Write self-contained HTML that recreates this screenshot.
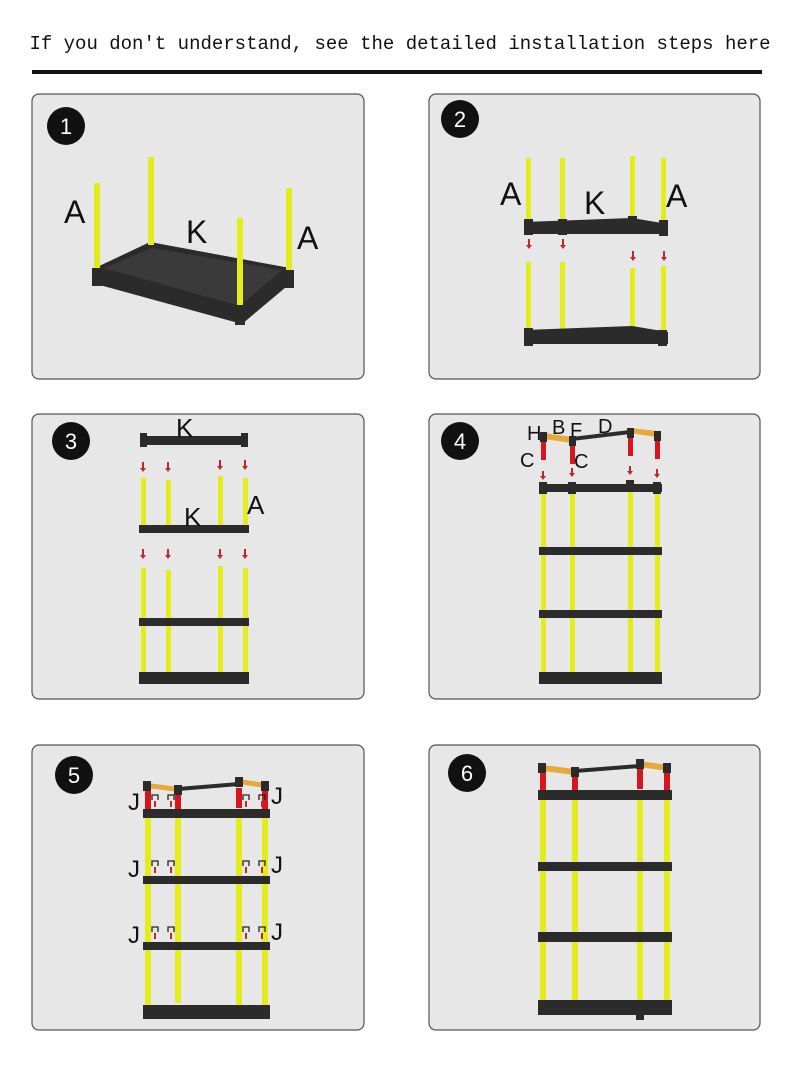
<!DOCTYPE html>
<html><head><meta charset="utf-8"><style>
html,body{margin:0;padding:0;background:#fff;}
svg{display:block}
.pn{fill:#e7e7e7;stroke:#555;stroke-width:1.2}
.p{fill:#e4ec1c}
.s{fill:#2b2b2b}
.r{fill:#d5161e}
.o{fill:#e8a83a}
.ar{fill:#c0282a}
.lb{font-family:"Liberation Sans",sans-serif;fill:#111}
.n{font-family:"Liberation Sans",sans-serif;fill:#fff;font-size:22px;text-anchor:middle}
</style></head><body>
<svg width="800" height="1091" viewBox="0 0 800 1091" xmlns="http://www.w3.org/2000/svg">
<text x="400" y="49" font-family="Liberation Mono,monospace" font-size="19" text-anchor="middle" fill="#111">If you don't understand, see the detailed installation steps here</text>
<rect x="32" y="70" width="730" height="4" fill="#111"/>

<rect class="pn" x="32" y="94" width="332" height="285" rx="7"/>
<rect class="pn" x="429" y="94" width="331" height="285" rx="7"/>
<rect class="pn" x="32" y="414" width="332" height="285" rx="7"/>
<rect class="pn" x="429" y="414" width="331" height="285" rx="7"/>
<rect class="pn" x="32" y="745" width="332" height="285" rx="7"/>
<rect class="pn" x="429" y="745" width="331" height="285" rx="7"/>

<circle cx="66" cy="126" r="19" fill="#111"/><text class="n" x="66" y="134">1</text>
<circle cx="460" cy="119" r="19" fill="#111"/><text class="n" x="460" y="127">2</text>
<circle cx="71" cy="441" r="19" fill="#111"/><text class="n" x="71" y="449">3</text>
<circle cx="460" cy="441" r="19" fill="#111"/><text class="n" x="460" y="449">4</text>
<circle cx="74" cy="775" r="19" fill="#111"/><text class="n" x="74" y="783">5</text>
<circle cx="467" cy="773" r="19" fill="#111"/><text class="n" x="467" y="781">6</text>

<!-- PANEL 1 -->
<polygon class="s" points="95,268 150,242 290,268 292,282 242,324 96,284"/>
<polygon points="104,268 152,248 282,270 240,306" fill="#3a3a3a"/>
<rect class="p" x="94" y="183" width="6" height="86"/>
<rect class="p" x="148" y="157" width="6" height="88"/>
<rect class="p" x="237" y="218" width="6" height="88"/>
<rect class="p" x="286" y="188" width="6" height="84"/>
<rect class="s" x="92" y="268" width="10" height="18"/>
<rect class="s" x="235" y="305" width="10" height="20"/>
<rect class="s" x="284" y="270" width="10" height="18"/>
<text class="lb" x="64" y="223" font-size="32">A</text>
<text class="lb" x="186" y="243" font-size="32">K</text>
<text class="lb" x="297" y="249" font-size="32">A</text>

<!-- PANEL 2 -->
<rect class="p" x="526" y="158" width="5" height="66"/>
<rect class="p" x="560" y="158" width="5" height="66"/>
<rect class="p" x="630" y="156" width="5" height="66"/>
<rect class="p" x="661" y="158" width="5" height="66"/>
<polygon class="s" points="524,222 632,218 668,224 668,234 524,234"/>
<rect class="s" x="524" y="219" width="9" height="16"/><rect class="s" x="558" y="219" width="9" height="16"/><rect class="s" x="628" y="216" width="9" height="16"/><rect class="s" x="659" y="220" width="9" height="16"/>
<g class="ar"><rect x="528" y="239" width="2" height="6"/><polygon points="526,245 532,245 529,249"/>
<rect x="562" y="239" width="2" height="6"/><polygon points="560,245 566,245 563,249"/>
<rect x="632" y="251" width="2" height="6"/><polygon points="630,257 636,257 633,261"/>
<rect x="663" y="251" width="2" height="6"/><polygon points="661,257 667,257 664,261"/></g>
<rect class="p" x="526" y="262" width="5" height="72"/>
<rect class="p" x="560" y="262" width="5" height="72"/>
<rect class="p" x="630" y="268" width="5" height="62"/>
<rect class="p" x="661" y="266" width="5" height="68"/>
<polygon class="s" points="524,330 632,326 668,332 668,344 524,344"/>
<rect class="s" x="524" y="328" width="9" height="18"/><rect class="s" x="658" y="330" width="9" height="16"/>
<text class="lb" x="500" y="205" font-size="32">A</text>
<text class="lb" x="584" y="214" font-size="32">K</text>
<text class="lb" x="666" y="207" font-size="32">A</text>

<!-- PANEL 3 -->
<rect class="s" x="140" y="436" width="108" height="9"/>
<rect class="s" x="140" y="433" width="7" height="14"/><rect class="s" x="241" y="433" width="7" height="14"/>
<g class="ar"><rect x="142" y="462" width="2" height="6"/><polygon points="140,468 146,468 143,472"/>
<rect x="167" y="462" width="2" height="6"/><polygon points="165,468 171,468 168,472"/>
<rect x="219" y="460" width="2" height="6"/><polygon points="217,466 223,466 220,470"/>
<rect x="244" y="460" width="2" height="6"/><polygon points="242,466 248,466 245,470"/>
<rect x="142" y="549" width="2" height="6"/><polygon points="140,555 146,555 143,559"/>
<rect x="167" y="549" width="2" height="6"/><polygon points="165,555 171,555 168,559"/>
<rect x="219" y="549" width="2" height="6"/><polygon points="217,555 223,555 220,559"/>
<rect x="244" y="549" width="2" height="6"/><polygon points="242,555 248,555 245,559"/></g>
<rect class="p" x="141" y="478" width="5" height="48"/><rect class="p" x="166" y="480" width="5" height="46"/><rect class="p" x="218" y="476" width="5" height="50"/><rect class="p" x="243" y="478" width="5" height="48"/>
<rect class="s" x="139" y="525" width="110" height="8"/>
<rect class="p" x="141" y="568" width="5" height="110"/><rect class="p" x="166" y="570" width="5" height="108"/><rect class="p" x="218" y="566" width="5" height="110"/><rect class="p" x="243" y="568" width="5" height="110"/>
<rect class="s" x="139" y="618" width="110" height="8"/>
<rect class="s" x="139" y="672" width="110" height="12"/>
<text class="lb" x="176" y="437" font-size="26">K</text>
<text class="lb" x="184" y="526" font-size="26">K</text>
<text class="lb" x="247" y="514" font-size="26">A</text>

<!-- PANEL 4 -->
<polygon class="o" points="544,433 572,437 572,443 544,439"/>
<polygon class="s" points="572,437 630,430 630,434 572,441"/>
<polygon class="o" points="630,428 657,431 657,437 630,433"/>
<rect class="s" x="540" y="432" width="7" height="10"/><rect class="s" x="569" y="436" width="7" height="10"/><rect class="s" x="627" y="428" width="7" height="10"/><rect class="s" x="654" y="431" width="7" height="10"/>
<rect class="r" x="541" y="442" width="5" height="18"/><rect class="r" x="570" y="446" width="5" height="18"/><rect class="r" x="628" y="438" width="5" height="18"/><rect class="r" x="655" y="441" width="5" height="18"/>
<g class="ar"><rect x="542" y="471" width="2" height="5"/><polygon points="540,476 546,476 543,480"/>
<rect x="571" y="468" width="2" height="5"/><polygon points="569,473 575,473 572,477"/>
<rect x="629" y="466" width="2" height="5"/><polygon points="627,471 633,471 630,475"/>
<rect x="656" y="469" width="2" height="5"/><polygon points="654,474 660,474 657,478"/></g>
<rect class="p" x="541" y="490" width="5" height="190"/><rect class="p" x="570" y="490" width="5" height="185"/><rect class="p" x="628" y="488" width="5" height="185"/><rect class="p" x="655" y="490" width="5" height="190"/>
<g class="s">
<rect x="539" y="484" width="123" height="8"/><rect x="539" y="547" width="123" height="8"/><rect x="539" y="610" width="123" height="8"/><rect x="539" y="672" width="123" height="12"/>
<rect x="539" y="482" width="8" height="12"/><rect x="568" y="482" width="8" height="12"/><rect x="626" y="480" width="8" height="12"/><rect x="653" y="482" width="8" height="12"/>
</g>
<text class="lb" x="527" y="440" font-size="20">H</text>
<text class="lb" x="552" y="434" font-size="20">B</text>
<text class="lb" x="570" y="437" font-size="20">F</text>
<text class="lb" x="598" y="433" font-size="20">D</text>
<text class="lb" x="520" y="467" font-size="20">C</text>
<text class="lb" x="574" y="468" font-size="20">C</text>

<!-- PANEL 5 -->
<polygon class="o" points="148,783 178,787 178,792 148,788"/>
<polygon class="s" points="178,787 239,782 239,786 178,791"/>
<polygon class="o" points="239,779 265,783 265,788 239,784"/>
<rect class="r" x="145" y="790" width="6" height="20"/><rect class="r" x="175" y="793" width="6" height="18"/><rect class="r" x="236" y="788" width="6" height="20"/><rect class="r" x="262" y="791" width="6" height="20"/>
<rect class="p" x="145" y="815" width="6" height="190"/><rect class="p" x="175" y="818" width="6" height="185"/><rect class="p" x="236" y="815" width="6" height="190"/><rect class="p" x="262" y="815" width="6" height="190"/>
<g class="s">
<rect x="143" y="809" width="127" height="9"/><rect x="143" y="876" width="127" height="8"/><rect x="143" y="942" width="127" height="8"/><rect x="143" y="1005" width="127" height="14"/>
<rect x="143" y="781" width="8" height="10"/><rect x="174" y="785" width="8" height="10"/><rect x="235" y="777" width="8" height="10"/><rect x="261" y="781" width="8" height="10"/>
</g>
<g class="lb" font-size="24">
<text x="128" y="810">J</text><text x="271" y="804">J</text>
<text x="128" y="877">J</text><text x="271" y="873">J</text>
<text x="128" y="943">J</text><text x="271" y="940">J</text>
</g>
<g class="ar">
<rect x="154" y="801" width="2" height="6"/><rect x="170" y="801" width="2" height="6"/><rect x="245" y="801" width="2" height="6"/><rect x="261" y="801" width="2" height="6"/>
<rect x="154" y="867" width="2" height="6"/><rect x="170" y="867" width="2" height="6"/><rect x="245" y="867" width="2" height="6"/><rect x="261" y="867" width="2" height="6"/>
<rect x="154" y="933" width="2" height="6"/><rect x="170" y="933" width="2" height="6"/><rect x="245" y="933" width="2" height="6"/><rect x="261" y="933" width="2" height="6"/>
</g>
<g fill="none" stroke="#222" stroke-width="1.3">
<path d="M152 800v-5h6v5M168 800v-5h6v5M243 800v-5h6v5M259 800v-5h6v5"/>
<path d="M152 866v-5h6v5M168 866v-5h6v5M243 866v-5h6v5M259 866v-5h6v5"/>
<path d="M152 932v-5h6v5M168 932v-5h6v5M243 932v-5h6v5M259 932v-5h6v5"/>
</g>

<!-- PANEL 6 -->
<polygon class="o" points="543,765 575,769 575,775 543,771"/>
<polygon class="s" points="575,769 640,764 640,768 575,773"/>
<polygon class="o" points="640,761 667,765 667,771 640,767"/>
<rect class="r" x="540" y="772" width="6" height="20"/><rect class="r" x="572" y="775" width="6" height="18"/><rect class="r" x="637" y="769" width="6" height="20"/><rect class="r" x="664" y="772" width="6" height="20"/>
<rect class="p" x="540" y="795" width="6" height="210"/><rect class="p" x="572" y="798" width="6" height="205"/><rect class="p" x="637" y="795" width="6" height="210"/><rect class="p" x="664" y="795" width="6" height="210"/>
<g class="s">
<rect x="538" y="790" width="134" height="10"/><rect x="538" y="862" width="134" height="9"/><rect x="538" y="932" width="134" height="10"/><rect x="538" y="1000" width="134" height="15"/>
<rect x="538" y="763" width="8" height="10"/><rect x="571" y="767" width="8" height="10"/><rect x="636" y="759" width="8" height="10"/><rect x="663" y="763" width="8" height="10"/>
<rect x="636" y="1012" width="8" height="8"/>
</g>
</svg>
</body></html>
